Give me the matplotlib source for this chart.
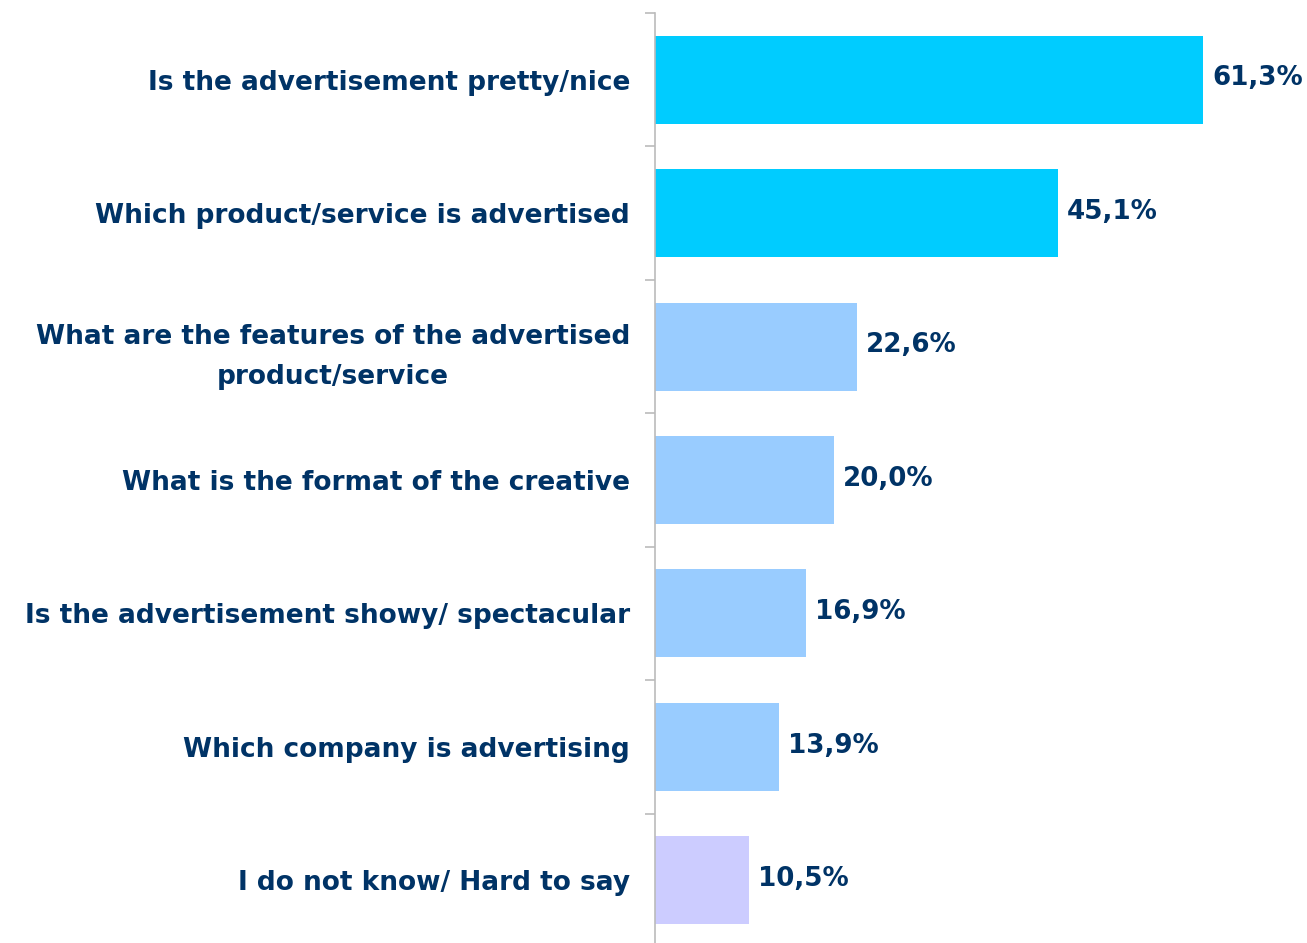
import numpy as np
import matplotlib
matplotlib.use("Agg")
import matplotlib.pyplot as plt

# Survey answers, top to bottom
labels = ["Is the advertisement pretty/nice",
          "Which product/service is advertised",
          "What are the features of the advertised\nproduct/service",
          "What is the format of the creative",
          "Is the advertisement showy/ spectacular",
          "Which company is advertising",
          "I do not know/ Hard to say"]
values = [61.3, 45.1, 22.6, 20.0, 16.9, 13.9, 10.5]
colors = ["#00CCFF", "#00CCFF", "#99CCFF", "#99CCFF", "#99CCFF", "#99CCFF", "#CCCCFF"]

text_color = "#003366"
plt.rcParams['font.family'] = ['DejaVu Sans']

fig = plt.figure(figsize=(13.07, 9.43), dpi=100)
ax = fig.add_axes([655 / 1307, 1 - 947 / 943, 70 * 8.94 / 1307, 934 / 943])

y = np.arange(len(labels))
ax.barh(y, values, height=0.66, color=colors)
ax.set_ylim(len(labels) - 0.5, -0.5)
ax.set_xlim(0, 70)

for yi, v in zip(y, values):
    ax.text(v + 1.0, yi - 0.01, f"{v:.1f}".replace(".", ",") + "%", va="center", ha="left",
            fontsize=18.8, fontweight="bold", color=text_color)

ax.set_yticks(y)
ax.set_yticklabels(labels, fontsize=19, fontweight="bold", color=text_color,
                   multialignment="center", linespacing=1.7)
ax.set_yticks(np.arange(len(labels) + 1) - 0.5, minor=True)
ax.tick_params(axis="y", which="major", length=0, pad=18)
ax.tick_params(axis="y", which="minor", length=7, width=1.2, color="#BBBBBB")
ax.set_xticks([])

for s in ["top", "right", "bottom"]:
    ax.spines[s].set_visible(False)
ax.spines["left"].set_color("#BBBBBB")
ax.spines["left"].set_linewidth(1.2)

fig.savefig("out.png", dpi=100)
